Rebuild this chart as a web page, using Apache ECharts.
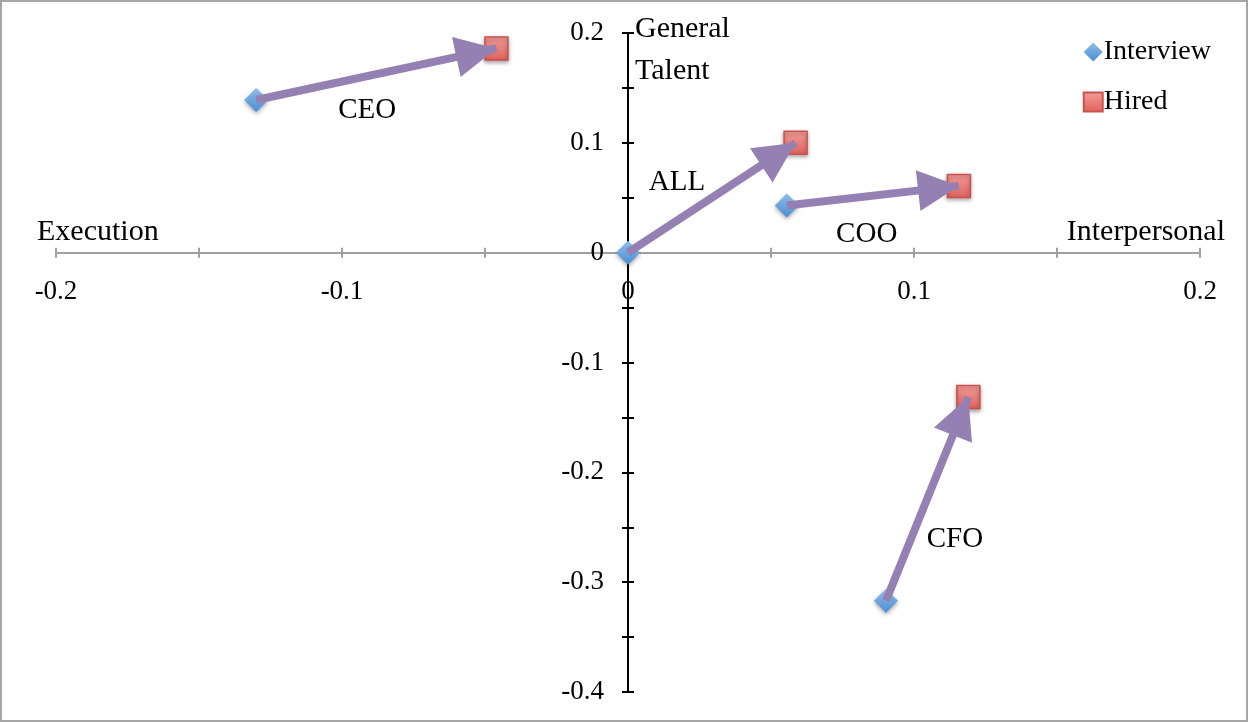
<!DOCTYPE html>
<html>
<head>
<meta charset="utf-8">
<script src="https://cdn.jsdelivr.net/npm/echarts@6/dist/echarts.min.js"></script>
<style>
  html, body { margin: 0; padding: 0; background: #fff; }
  #main { width: 1248px; height: 722px; box-sizing: border-box; border: 2px solid #a6a6a6; }
</style>
</head>
<body>
<div id="main"></div>
<script>
// roles, in order
var roles = ['CEO', 'ALL', 'COO', 'CFO'];
// Interview position [Interpersonal vs Execution, General Talent]
var interviewX = [-0.130, 0.000, 0.0555, 0.0902];
var interviewY = [0.139, 0.000, 0.043, -0.317];
// Hired position
var hiredX = [-0.046, 0.0586, 0.1157, 0.119];
var hiredY = [0.186, 0.100, 0.0608, -0.1315];

var serif = '"Liberation Serif", "Times New Roman", serif';

// where each role label sits relative to its interview point (px)
var labelOffsets = { CEO: [111, 10], ALL: [49, -70], COO: [80, 29], CFO: [69, -61] };

var chartDom = document.getElementById('main');
var myChart = echarts.init(chartDom);

function tickLabel(v) {
  var r = Math.round(v * 100);
  if (r % 10 !== 0) return '';
  return String(r / 100);
}

var interviewData = roles.map(function (r, i) {
  return {
    name: r,
    value: [interviewX[i], interviewY[i]],
    label: { show: true, formatter: r, offset: labelOffsets[r], position: 'inside' }
  };
});
var hiredData = roles.map(function (r, i) {
  return { name: r, value: [hiredX[i], hiredY[i]] };
});
var arrows = roles.map(function (r, i) {
  return [{ coord: [interviewX[i], interviewY[i]] }, { coord: [hiredX[i], hiredY[i]] }];
});

var textBase = { fontFamily: serif, color: '#000', textBorderWidth: 0, textShadowBlur: 0 };

function xAx(inside) {
  return {
    type: 'value', min: -0.2, max: 0.2, interval: 0.05, position: 'bottom',
    axisLine: { onZero: false, lineStyle: { color: '#a0a0a0', width: 2 } },
    axisTick: { show: true, inside: inside, length: 5, lineStyle: { color: '#a0a0a0', width: 2 } },
    axisLabel: inside ? { show: false } :
      Object.assign({ formatter: tickLabel, margin: 26, fontSize: 27 }, textBase),
    splitLine: { show: false }
  };
}
function yAx(inside) {
  return {
    type: 'value', min: -0.4, max: 0.2, interval: 0.05, position: 'left',
    axisLine: { onZero: false, lineStyle: { color: '#000', width: 2 } },
    axisTick: { show: true, inside: inside, length: 6, lineStyle: { color: '#000', width: 2 } },
    axisLabel: inside ? { show: false } :
      Object.assign({ formatter: tickLabel, margin: 24, fontSize: 27 }, textBase),
    splitLine: { show: false }
  };
}

var option = {
  animation: false,
  grid: { left: 54, right: 46, top: 31, bottom: 28, containLabel: false, outerBoundsMode: 'none' },
  legend: {
    data: ['Interview', 'Hired'],
    orient: 'vertical',
    right: 30,
    top: 30,
    itemGap: 20,
    itemWidth: 19,
    itemHeight: 19,
    textStyle: Object.assign({ fontSize: 28, lineHeight: 30, padding: [0, 0, 0, -4] }, textBase)
  },
  xAxis: [xAx(false), xAx(true)],
  yAxis: [yAx(false), yAx(true)],
  series: [
    {
      name: 'Hired',
      type: 'scatter',
      symbol: 'rect',
      symbolSize: 23,
      itemStyle: {
        opacity: 1,
        color: new echarts.graphic.LinearGradient(0, 0, 0, 1, [
          { offset: 0, color: '#f39e9a' },
          { offset: 1, color: '#e0605b' }
        ]),
        borderColor: '#c9524e',
        borderWidth: 1.5,
        shadowColor: 'rgba(0,0,0,0.35)',
        shadowBlur: 4,
        shadowOffsetY: 2
      },
      data: hiredData,
      z: 2
    },
    {
      name: 'Interview',
      type: 'scatter',
      symbol: 'diamond',
      symbolSize: 24,
      itemStyle: {
        opacity: 1,
        color: new echarts.graphic.LinearGradient(0, 0, 0, 1, [
          { offset: 0, color: '#8ebde9' },
          { offset: 1, color: '#4a8fd3' }
        ]),
        shadowColor: 'rgba(0,0,0,0.35)',
        shadowBlur: 4,
        shadowOffsetY: 2
      },
      label: Object.assign({ fontSize: 29 }, textBase),
      data: interviewData,
      markLine: {
        silent: true,
        symbol: ['none', 'triangle'],
        symbolSize: 41,
        symbolOffset: [[0, 0], [0, '50%']],
        label: { show: false },
        lineStyle: { color: '#9580b4', width: 8, type: 'solid', opacity: 1 },
        emphasis: { disabled: true },
        data: arrows,
        z: 5
      },
      z: 3
    },
    {
      // axis titles placed on the axis ends
      name: 'axisNames',
      type: 'scatter',
      symbolSize: 0,
      silent: true,
      itemStyle: { opacity: 1 },
      data: [
        { value: [-0.2, 0], label: { formatter: 'Execution', position: 'insideBottomLeft', offset: [-24, -1] } },
        { value: [0.2, 0], label: { formatter: 'Interpersonal', position: 'insideBottomRight', offset: [30, -1] } },
        { value: [0, 0.2], label: { formatter: 'General\nTalent', position: 'insideTopLeft', offset: [2, -30], lineHeight: 42 } }
      ],
      label: Object.assign({ show: true, fontSize: 30 }, textBase)
    }
  ]
};
myChart.setOption(option);

// put both axes through the origin (the other axis' zero)
var zero = myChart.convertToPixel({ gridIndex: 0 }, [0, 0]);
var corner = myChart.convertToPixel({ gridIndex: 0 }, [-0.2, -0.4]);
var xOff = -(corner[1] - zero[1]);
var yOff = -(zero[0] - corner[0]);
myChart.setOption({
  xAxis: [{ offset: xOff }, { offset: xOff }],
  yAxis: [{ offset: yOff }, { offset: yOff }]
});
</script>
</body>
</html>
